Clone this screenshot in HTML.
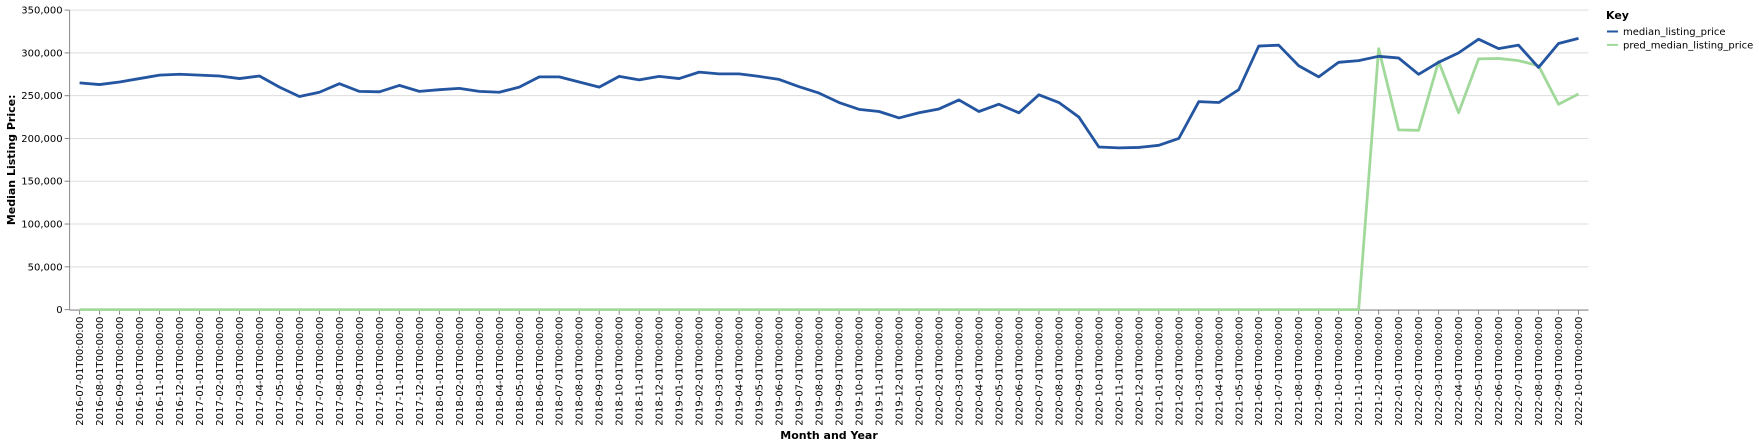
<!DOCTYPE html>
<html><head><meta charset="utf-8"><style>
html,body{margin:0;padding:0;background:#fff;width:1759px;height:447px;overflow:hidden;}
svg text{font-family:"DejaVu Sans","Liberation Sans",sans-serif;}
</style></head><body>
<svg id="chart" width="1759" height="447"></svg>
<script>
const categories=[];
(function(){let y=2016,m=7;for(let i=0;i<76;i++){categories.push(y+"-"+String(m).padStart(2,"0")+"-01T00:00:00");m++;if(m>12){m=1;y++;}}})();
const medianValues=[265000,263000,266000,270000,274000,275000,274000,273000,270000,273000,260000,249000,254000,264000,255000,254500,262000,255000,257000,258500,255000,254000,260000,272000,272000,266000,260000,272500,268500,272500,270000,277500,275500,275500,272500,269000,260500,253000,242000,234000,231500,224000,230000,234500,245000,231500,240000,230000,251000,242000,225000,190000,189000,189500,192000,200000,243000,242000,257000,308000,309000,285000,272000,289000,291000,296000,294000,275000,289000,300000,316000,305000,309000,283000,311000,317000];
const predValues=[];
for(let i=0;i<65;i++)predValues.push(0);
const predTail=[305000,210000,209500,290000,230000,293000,293500,291000,285000,240000,252000];
predTail.forEach(v=>predValues.push(v));
const yTicks=[0,50000,100000,150000,200000,250000,300000,350000];

const NS="http://www.w3.org/2000/svg";
const svg=document.getElementById("chart");
const L=69.6,R=1588.5,T=10.1,B=309.6;
const step=(R-L)/categories.length;
const xs=i=>L+(i+0.5)*step;
const ys=v=>B-(v/350000)*(B-T);
function mk(tag,attrs,parent){const e=document.createElementNS(NS,tag);for(const k in attrs)e.setAttribute(k,attrs[k]);(parent||svg).appendChild(e);return e;}

const grid=mk("g",{});


yTicks.forEach(t=>{
  mk("line",{x1:L,x2:R,y1:ys(t),y2:ys(t),stroke:"#ddd","stroke-width":1},grid);
  mk("line",{x1:L-5,x2:L,y1:ys(t),y2:ys(t),stroke:"#888"});
  const lb=mk("text",{x:L-7,y:ys(t)+3.5,"text-anchor":"end","font-size":10,fill:"#000"});
  lb.textContent=t.toLocaleString("en-US");
  
  
});
categories.forEach((c,i)=>{
  mk("line",{x1:xs(i),x2:xs(i),y1:B,y2:B+5,stroke:"#888"});
  const lb=mk("text",{transform:`translate(${xs(i)+3.5},${B+7}) rotate(-90)`,"text-anchor":"end","font-size":10,fill:"#000"});
  lb.textContent=c;
  
  
});
mk("line",{x1:L,x2:L,y1:T,y2:B,stroke:"#888"});
mk("line",{x1:L,x2:R,y1:B+0.5,y2:B+0.5,stroke:"#888"});

function path(vals,color,name){
  const d=vals.map((v,i)=>(i?"L":"M")+xs(i).toFixed(2)+","+ys(v).toFixed(2)).join("");
  const p=mk("path",{d:d,fill:"none",stroke:color,"stroke-width":2.8,"stroke-linejoin":"round"});
  
  
}
path(predValues,"#a1d99b","pred-median-listing-price-line");
path(medianValues,"#2455a0","median-listing-price-line");

const xt=mk("text",{x:(L+R)/2,y:439,"text-anchor":"middle","font-size":11,"font-weight":"bold"});
xt.textContent="Month and Year";


const yt=mk("text",{transform:`translate(15,${(T+B)/2}) rotate(-90)`,"text-anchor":"middle","font-size":11,"font-weight":"bold"});
yt.textContent="Median Listing Price:";



const kt=mk("text",{x:1606,y:19,"font-size":11,"font-weight":"bold"});
kt.textContent="Key";


[["median_listing_price","#2455a0"],["pred_median_listing_price","#a1d99b"]].forEach((e,k)=>{
  const g=mk("g",{});
  
  
  const y=31.5+k*13.4;
  mk("line",{x1:1607,x2:1618,y1:y,y2:y,stroke:e[1],"stroke-width":2},g);
  const t=mk("text",{x:1623,y:y+3.5,"font-size":10},g);
  t.textContent=e[0];
});
</script>
</body></html>
